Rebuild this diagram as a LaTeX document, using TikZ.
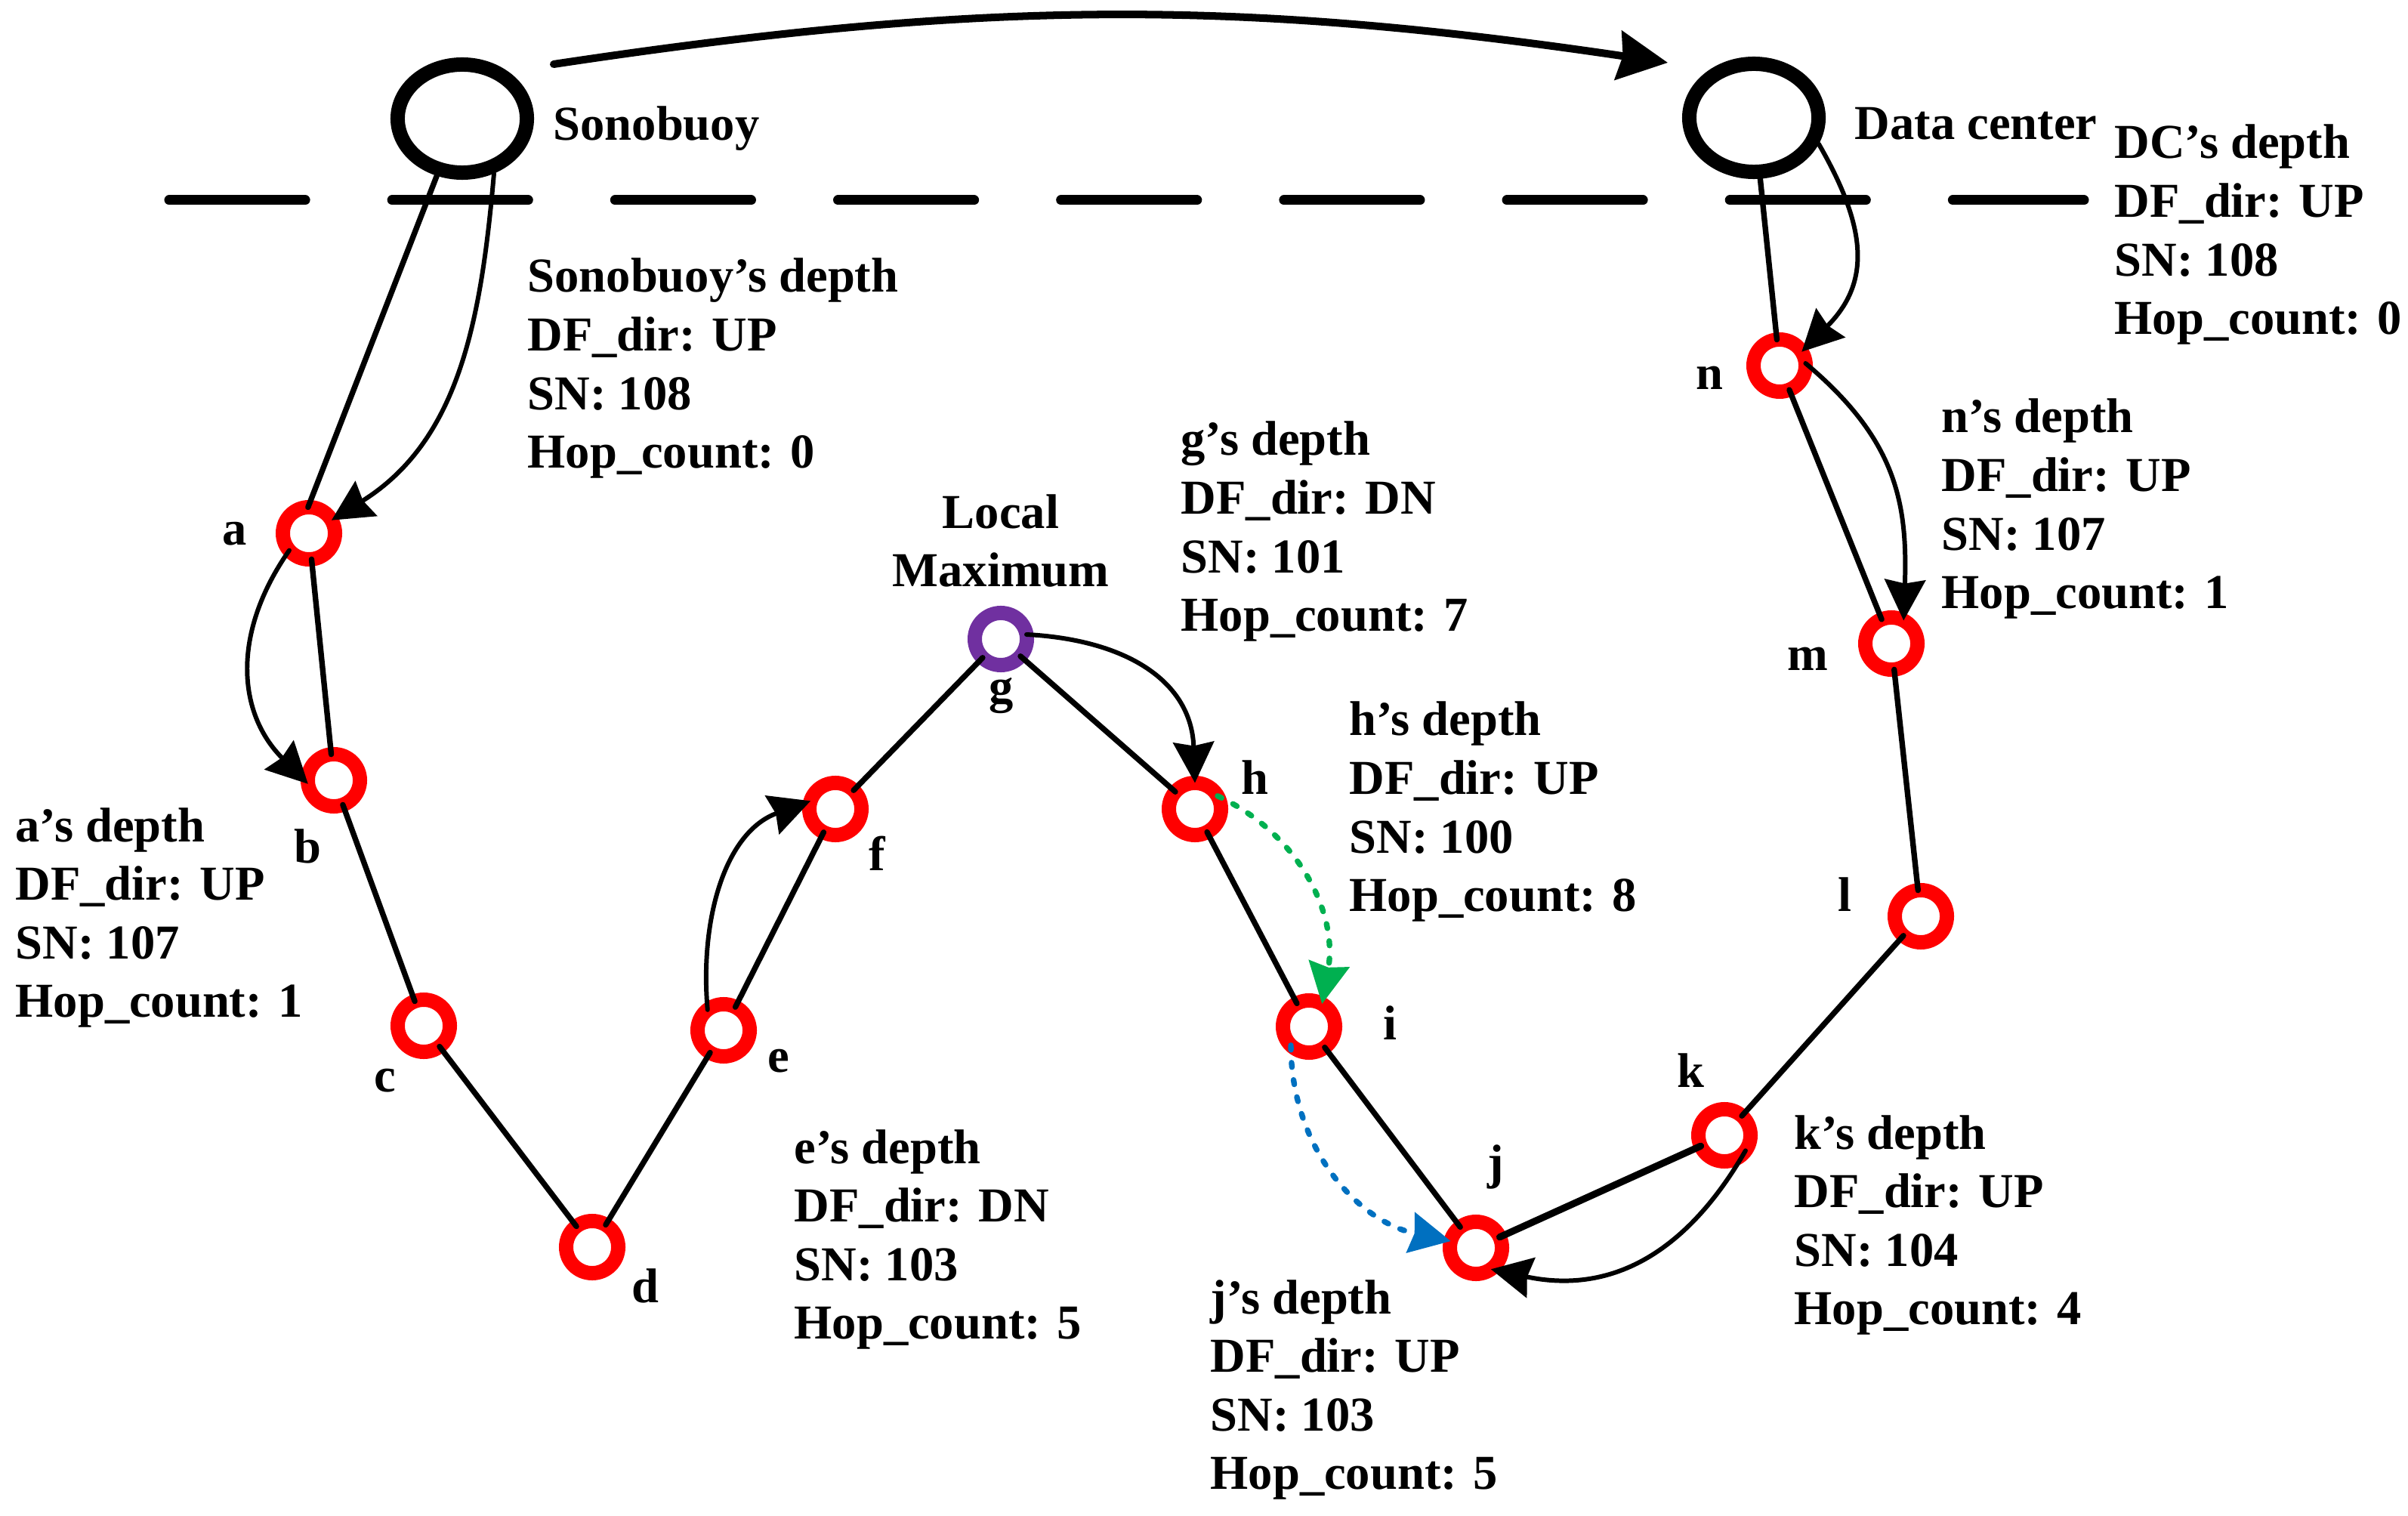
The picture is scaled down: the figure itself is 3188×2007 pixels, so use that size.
\documentclass[tikz,border=0pt]{standalone}
\usepackage{fontspec}
\setmainfont{Liberation Serif}
\usetikzlibrary{shapes.geometric,arrows.meta}
\definecolor{ringred}{HTML}{FF0000}
\definecolor{ringpurple}{HTML}{7030A0}
\definecolor{arrgreen}{HTML}{00B050}
\definecolor{arrblue}{HTML}{0070C0}
\newcommand\depthblock[1]{\begin{tabular}[t]{@{}l@{}}#1\end{tabular}}
\begin{document}
\begin{tikzpicture}[x=0.01cm,y=0.01cm,
  font=\fontsize{18.35pt}{22.08pt}\selectfont\bfseries,
  buoy/.style={ellipse,draw=black,line width=5.4pt,minimum width=1.71cm,minimum height=1.43cm,inner sep=0pt},
  ring/.style={circle,draw=ringred,line width=5.4pt,minimum size=0.69cm,inner sep=0pt,outer sep=0pt},
  peak/.style={ring,draw=ringpurple},
  lbl/.style={inner sep=0pt},
  info/.style={inner sep=0pt,anchor=base west},
  link/.style={line width=2.1pt,line cap=round},
  hop/.style={line width=1.7pt,line cap=round,-{Stealth[length=0.54cm,width=0.54cm,inset=0.05cm]}},
  dotline/.style={line width=2.1pt,dash pattern=on 0.06cm off 0.17cm},
  toparrow/.style={line width=2.85pt,line cap=round,-{Stealth[length=0.66cm,width=0.65cm,inset=0.06cm]}},
  water/.style={line width=3.7pt,line cap=round,dash pattern=on 1.8cm off 1.15cm}
]
\useasboundingbox (0,0) rectangle (3188,-2007);

% surface line
\coordinate (wl) at (224,-265);
\coordinate (wr) at (2759,-265);
\draw[water] (wl) -- (wr);

% surface nodes
\node[buoy] (sono) at (612,-157) {};
\node[buoy] (dc) at (2322,-156) {};
\node[info] (sonotxt) at (732,-186) {Sonobuoy};
\node[info] (dctxt) at (2455,-185) {Data center};

% sensor nodes
\node[ring] (a) at (409,-706) {};
\node[ring] (b) at (442,-1033) {};
\node[ring] (c) at (561,-1358) {};
\node[ring] (d) at (784,-1651) {};
\node[ring] (e) at (958,-1364) {};
\node[ring] (f) at (1106,-1071) {};
\node[peak] (g) at (1325,-846) {};
\node[ring] (h) at (1582,-1071) {};
\node[ring] (i) at (1733,-1359) {};
\node[ring] (j) at (1954,-1652) {};
\node[ring] (k) at (2283,-1503) {};
\node[ring] (l) at (2543,-1213) {};
\node[ring] (m) at (2504,-852) {};
\node[ring] (n) at (2356,-484) {};

% node letters
\node[lbl] (la) at (311,-707) {a};
\node[lbl] (lb) at (407,-1120) {b};
\node[lbl] (lc) at (510,-1431) {c};
\node[lbl] (ld) at (854,-1702) {d};
\node[lbl] (le) at (1031,-1405) {e};
\node[lbl] (lf) at (1161,-1130) {f};
\node[lbl] (lg) at (1326,-921) {g};
\node[lbl] (lh) at (1661,-1029) {h};
\node[lbl] (li) at (1840,-1354) {i};
\node[lbl] (lj) at (1980,-1545) {j};
\node[lbl] (lk) at (2238,-1417) {k};
\node[lbl] (ll) at (2442,-1184) {l};
\node[lbl] (lm) at (2393,-872) {m};
\node[lbl] (ln) at (2263,-500) {n};
\node[lbl,align=center] (lmax) at (1325,-716) {Local\\Maximum};

% info blocks
\node[info] (sonodepth) at (698,-387) {\depthblock{Sonobuoy’s depth\\DF\_dir: UP\\SN: 108\\Hop\_count: 0}};
\node[info] (dcdepth) at (2799,-210) {\depthblock{DC’s depth\\DF\_dir: UP\\SN: 108\\Hop\_count: 0}};
\node[info] (ndepth) at (2570,-573) {\depthblock{n’s depth\\DF\_dir: UP\\SN: 107\\Hop\_count: 1}};
\node[info] (gdepth) at (1563,-603) {\depthblock{g’s depth\\DF\_dir: DN\\SN: 101\\Hop\_count: 7}};
\node[info] (hdepth) at (1786,-974) {\depthblock{h’s depth\\DF\_dir: UP\\SN: 100\\Hop\_count: 8}};
\node[info] (adepth) at (20,-1114) {\depthblock{a’s depth\\DF\_dir: UP\\SN: 107\\Hop\_count: 1}};
\node[info] (edepth) at (1051,-1540) {\depthblock{e’s depth\\DF\_dir: DN\\SN: 103\\Hop\_count: 5}};
\node[info] (jdepth) at (1602,-1739) {\depthblock{j’s depth\\DF\_dir: UP\\SN: 103\\Hop\_count: 5}};
\node[info] (kdepth) at (2375,-1521) {\depthblock{k’s depth\\DF\_dir: UP\\SN: 104\\Hop\_count: 4}};

% top arrow
\coordinate (ts) at (733,-85);
\coordinate (te) at (2208,-83);
\draw[toparrow] (ts) to[bend left=8.5] (te);

% links
\draw[link] (sono.246) -- (a.92);
\draw[link] (a) -- (b);
\draw[link] (b) -- (c);
\draw[link] (c) -- (d);
\draw[link] (d) -- (e);
\draw[link] (e) -- (f);
\draw[link] (f) -- (g);
\draw[link] (g) -- (h);
\draw[link] (h) -- (i);
\draw[link] (i) -- (j);
\draw[link,line width=2.6pt] (j) -- (k);
\draw[link] (k) -- (l);
\draw[link] (l) -- (m);
\draw[link] (m) -- (n);
\draw[link] (dc) -- (n);

% forwarding hops
\draw[hop] (sono.-60) to[out=-95,in=32] (a.30);
\draw[hop] (a.221) to[out=-125,in=135,looseness=1.1] (b.188);
\draw[hop] (e.128) to[out=95,in=-160] (f.162);
\draw[hop] (g.10) to[out=-3,in=92,looseness=1.15] (h.90);
\draw[hop,arrgreen,dotline] (h.30) to[out=-25,in=80] (i.60);
\draw[hop,arrblue,dotline] (i.226) to[out=-90,in=168] (j.165);
\draw[hop] (k.-36) to[out=-120,in=-12,looseness=1.1] (j.-55);
\draw[hop] (dc.-22) to[out=-60,in=45,looseness=1.2] (n.32);
\draw[hop] (n.5) to[out=-40,in=88,looseness=1.1] (m.62);
\end{tikzpicture}
\end{document}
